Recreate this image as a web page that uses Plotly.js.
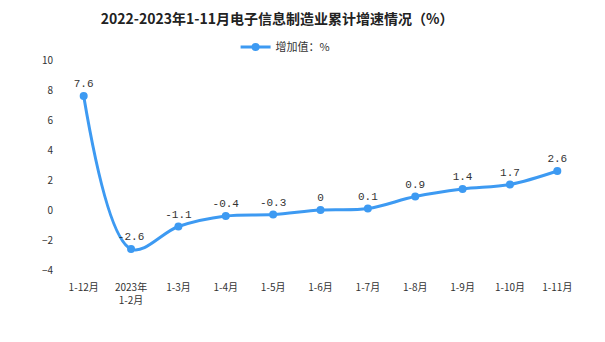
<!DOCTYPE html>
<html>
<head>
<meta charset="utf-8">
<script src="https://cdn.plot.ly/plotly-3.0.1.min.js"></script>
<style>html,body{margin:0;padding:0;background:#fff;}#chart{width:605px;height:342px;}</style>
</head>
<body>
<div id="chart"></div>
<script>
const categories = ["1-12月", "2023年<br>1-2月", "1-3月", "1-4月", "1-5月", "1-6月", "1-7月", "1-8月", "1-9月", "1-10月", "1-11月"];
const growth = [7.6, -2.6, -1.1, -0.4, -0.3, 0, 0.1, 0.9, 1.4, 1.7, 2.6];
const growthLabels = ["7.6", "-2.6", "-1.1", "-0.4", "-0.3", "0", "0.1", "0.9", "1.4", "1.7", "2.6"];
const yTicks = [-4, -2, 0, 2, 4, 6, 8, 10];

const trace = {
  x: categories,
  y: growth,
  type: 'scatter',
  mode: 'lines+markers+text',
  name: '增加值：%',
  line: {color: '#3d9af2', width: 3, shape: 'spline', smoothing: 1},
  marker: {color: '#3d9af2', size: 8},
  text: growthLabels,
  textposition: 'top center',
  textfont: {family: 'Liberation Mono, monospace', size: 11, color: '#333'},
  cliponaxis: false
};

const layout = {
  width: 605, height: 342,
  margin: {l: 60, r: 24, t: 60, b: 72},
  paper_bgcolor: '#fff', plot_bgcolor: '#fff',
  title: {
    text: '<b>2022-2023年1-11月电子信息制造业累计增速情况（%）</b>',
    font: {family: 'Noto Sans CJK SC, sans-serif', size: 14, color: '#222'},
    x: 0.458, xanchor: 'center', y: 0.944, yanchor: 'middle'
  },
  showlegend: true,
  legend: {
    orientation: 'h', x: 0.433, xanchor: 'center', y: 1.062, yanchor: 'middle',
    font: {family: 'Noto Sans CJK SC, sans-serif', size: 11, color: '#333'},
    itemwidth: 30
  },
  xaxis: {
    type: 'category',
    range: [-0.5, 10.5],
    showgrid: false, zeroline: false, showline: false,
    ticks: '',
    ticklabelstandoff: 10,
    tickfont: {family: 'Noto Sans CJK SC, sans-serif', size: 10, color: '#333'},
    tickangle: 0,
    fixedrange: true
  },
  yaxis: {
    range: [-4, 10],
    tickvals: yTicks,
    showgrid: false, zeroline: false, showline: false,
    ticks: '',
    ticklabelstandoff: 6,
    tickfont: {family: 'Noto Sans CJK SC, sans-serif', size: 10, color: '#333'},
    fixedrange: true
  }
};

Plotly.newPlot('chart', [trace], layout, {displayModeBar: false, staticPlot: true});
</script>
</body>
</html>
